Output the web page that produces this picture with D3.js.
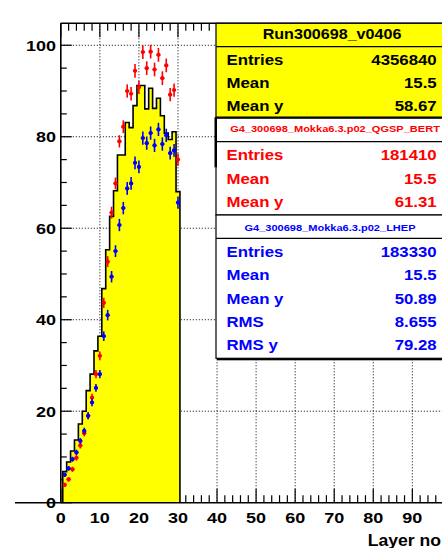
<!DOCTYPE html>
<html>
<head>
<meta charset="utf-8">
<script src="https://cdn.jsdelivr.net/npm/d3@7"></script>
<style>
  html, body { margin: 0; padding: 0; background: #fff; overflow: hidden; }
  svg { display: block; }
  text { font-family: "Liberation Sans", Arial, Helvetica, sans-serif; }
</style>
</head>
<body>
<div id="chart"></div>
<script>
// ---------- data ----------
const layers = d3.range(1, 31); // bin centres 1..30
const dataValues = [6.8, 8.9, 11.3, 13.7, 17.2, 20.0, 24.5, 28.1, 33.2, 36.4,
                    46.8, 55.3, 62.6, 68.2, 76.0, 76.0, 83.1, 82.0, 86.8, 91.2,
                    91.2, 86.1, 90.6, 86.2, 88.4, 84.6, 80.8, 79.4, 81.1, 68.0];
const bertValues = [3.9, 5.1, 7.3, 9.8, 12.5, 15.2, 19.0, 23.0, 28.1, 32.1,
                    43.7, 52.7, 63.4, 69.8, 79.0, 82.2, 90.0, 89.4, 94.4, 90.8,
                    98.5, 95.0, 98.6, 94.7, 97.9, 92.8, 95.6, 89.2, 90.2, 75.0];
const bertErrors = [0.45, 0.5, 0.55, 0.6, 0.65, 0.7, 0.75, 0.8, 0.9, 0.95,
                    1.1, 1.2, 1.3, 1.3, 1.35, 1.4, 1.45, 1.45, 1.5, 1.45,
                    1.5, 1.5, 1.5, 1.5, 1.5, 1.5, 1.5, 1.45, 1.45, 1.35];
const lhepValues = [6.1, 7.5, 9.5, 11.0, 13.5, 15.7, 19.0, 21.9, 25.1, 28.1,
                    36.4, 41.0, 49.4, 55.0, 60.7, 64.4, 68.7, 69.8, 74.3, 73.4,
                    79.7, 78.6, 80.8, 78.1, 81.6, 78.4, 80.3, 76.4, 77.0, 65.6];
const lhepErrors = [0.45, 0.5, 0.55, 0.6, 0.65, 0.7, 0.75, 0.8, 0.85, 0.9,
                    1.05, 1.15, 1.25, 1.3, 1.35, 1.35, 1.4, 1.4, 1.4, 1.4,
                    1.45, 1.45, 1.45, 1.45, 1.45, 1.45, 1.45, 1.4, 1.4, 1.35];

const xTickValues = [0, 10, 20, 30, 40, 50, 60, 70, 80, 90];
const yTickValues = [0, 20, 40, 60, 80, 100];
const xTitle = "Layer no";

const dataTitle = "Run300698_v0406";
const dataStatLabels = ["Entries", "Mean", "Mean y"];
const dataStatValues = ["4356840", "15.5", "58.67"];
const bertTitle = "G4_300698_Mokka6.3.p02_QGSP_BERT";
const bertStatLabels = ["Entries", "Mean", "Mean y"];
const bertStatValues = ["181410", "15.5", "61.31"];
const lhepTitle = "G4_300698_Mokka6.3.p02_LHEP";
const lhepStatLabels = ["Entries", "Mean", "Mean y", "RMS", "RMS y"];
const lhepStatValues = ["183330", "15.5", "50.89", "8.655", "79.28"];

// ---------- layout ----------
const W = 442, H = 548;
const frameL = 60.8, frameT = 23.3, frameB = 502.7, frameR = 451.4;
const SX = 1.2; // horizontal text stretch seen in the reference

const svg = d3.select("#chart").append("svg")
  .attr("width", W).attr("height", H)
  .style("background", "#fff");

const x = d3.scaleLinear().domain([0, 100]).range([frameL, frameR]);
const y = d3.scaleLinear().domain([0, 104.8]).range([frameB, frameT]);

const RED = "#ff0000", BLUE = "#0000ff", YEL = "#ffff00";

function stext(g, str, px, py, size, opts = {}) {
  return g.append("text")
    .attr("transform", `translate(${px},${py}) scale(${opts.sx || SX},1)`)
    .attr("text-anchor", opts.anchor || "start")
    .attr("font-size", size)
    .attr("font-weight", opts.weight || "bold")
    .attr("fill", opts.fill || "#000")
    .text(str);
}

// ---------- grid ----------
const grid = svg.append("g");
xTickValues.filter(v => v > 0).forEach(v => {
  grid.append("line").attr("x1", x(v)).attr("x2", x(v))
    .attr("y1", frameT).attr("y2", frameB)
    .attr("stroke", "#000").attr("stroke-width", 1).attr("stroke-dasharray", "1,2");
});
yTickValues.filter(v => v > 0).forEach(v => {
  grid.append("line").attr("x1", frameL).attr("x2", frameR)
    .attr("y1", y(v)).attr("y2", y(v))
    .attr("stroke", "#000").attr("stroke-width", 1).attr("stroke-dasharray", "1,2");
});

// ---------- ticks ----------
const ticks = svg.append("g").attr("stroke", "#000").attr("stroke-width", 1.2);
d3.range(0, 101, 2).forEach(v => {
  const major = v % 10 === 0;
  const len = major ? 14 : 7.5;
  ticks.append("line").attr("x1", x(v)).attr("x2", x(v))
    .attr("y1", frameB).attr("y2", frameB - len);
  ticks.append("line").attr("x1", x(v)).attr("x2", x(v))
    .attr("y1", frameT).attr("y2", frameT + len);
});
d3.range(0, 105, 5).forEach(v => {
  const major = v % 20 === 0;
  const len = major ? 11 : 6;
  ticks.append("line").attr("x1", frameL).attr("x2", frameL + len)
    .attr("y1", y(v)).attr("y2", y(v));
});

// ---------- histogram (data) ----------
const pts = [[x(layers[0] - 0.5), y(0)]];
layers.forEach((l, i) => {
  pts.push([x(l - 0.5), y(dataValues[i])]);
  pts.push([x(l + 0.5), y(dataValues[i])]);
});
pts.push([x(layers[layers.length - 1] + 0.5), y(0)]);
svg.append("path").attr("d", d3.line()(pts))
  .attr("fill", YEL).attr("stroke", "#000").attr("stroke-width", 1.6);

// ---------- frame / axes lines ----------
const frame = svg.append("g").attr("stroke", "#000").attr("stroke-width", 1.6).attr("fill", "none");
frame.append("line").attr("x1", frameL).attr("x2", frameL).attr("y1", frameT).attr("y2", frameB);
frame.append("line").attr("x1", frameL).attr("x2", frameR).attr("y1", frameT).attr("y2", frameT);
frame.append("line").attr("x1", 15).attr("x2", frameR).attr("y1", frameB).attr("y2", frameB);
frame.append("line").attr("x1", frameR).attr("x2", frameR).attr("y1", frameT).attr("y2", frameB);

// ---------- MC points ----------
function drawPoints(vals, errs, color) {
  const g = svg.append("g").attr("stroke", color).attr("fill", color).attr("stroke-width", 1.6);
  layers.forEach((l, i) => {
    g.append("line").attr("x1", x(l - 0.5)).attr("x2", x(l + 0.5))
      .attr("y1", y(vals[i])).attr("y2", y(vals[i]));
    g.append("line").attr("x1", x(l)).attr("x2", x(l))
      .attr("y1", y(vals[i] - errs[i])).attr("y2", y(vals[i] + errs[i]));
    g.append("circle").attr("cx", x(l)).attr("cy", y(vals[i])).attr("r", 2.1).attr("stroke", "none");
  });
}
drawPoints(bertValues, bertErrors, RED);
drawPoints(lhepValues, lhepErrors, BLUE);

// ---------- axis labels ----------
const lab = svg.append("g");
xTickValues.forEach(v => stext(lab, String(v), x(v), 523.3, 15, { anchor: "middle" }));
yTickValues.forEach(v => stext(lab, String(v), 56, y(v) + 5.4, 15, { anchor: "end" }));
stext(lab, xTitle, 441, 545.5, 16, { anchor: "end", sx: 1.1 });

// ---------- stats boxes ----------
const boxL = 216, boxR = 447;
const st = svg.append("g");
function box(top, bottom, sep, fill) {
  st.append("rect").attr("x", boxL).attr("y", top).attr("width", boxR - boxL).attr("height", bottom - top)
    .attr("fill", fill).attr("stroke", "#000").attr("stroke-width", 1.2);
  if (sep) st.append("line").attr("x1", boxL).attr("x2", boxR).attr("y1", sep).attr("y2", sep)
    .attr("stroke", "#000").attr("stroke-width", 1.2);
}
// data box
box(23.3, 117.3, 46.7, YEL);
stext(st, dataTitle, 332, 38.5, 14, { anchor: "middle", weight: "bold", sx: 1.15 });
[65, 87.8, 110.6].forEach((by, i) => {
  stext(st, dataStatLabels[i], 226.5, by, 14);
  stext(st, dataStatValues[i], 436.7, by, 14, { anchor: "end" });
});
// QGSP_BERT box
box(117.3, 215, 141.7, "#fff");
stext(st, bertTitle, 335, 131.5, 9.2, { anchor: "middle", fill: RED });
[160, 183.5, 207].forEach((by, i) => {
  stext(st, bertStatLabels[i], 226.5, by, 14, { fill: RED });
  stext(st, bertStatValues[i], 436.7, by, 14, { anchor: "end", fill: RED });
});
// LHEP box
box(215, 358.3, 238.3, "#fff");
stext(st, lhepTitle, 330, 230.8, 9.2, { anchor: "middle", fill: BLUE });
[256.7, 280.1, 303.5, 326.9, 350.3].forEach((by, i) => {
  stext(st, lhepStatLabels[i], 226.5, by, 14, { fill: BLUE });
  stext(st, lhepStatValues[i], 436.7, by, 14, { anchor: "end", fill: BLUE });
});
// shadows / thick edges
st.append("rect").attr("x", boxL + 1).attr("y", 358.3).attr("width", boxR - boxL).attr("height", 2).attr("fill", "#000");
st.append("rect").attr("x", boxL + 1).attr("y", 117.3).attr("width", boxR - boxL).attr("height", 1.5).attr("fill", "#000");
st.append("rect").attr("x", boxL - 1.5).attr("y", 117.3).attr("width", 2.5).attr("height", 50).attr("fill", "#000");
</script>
</body>
</html>
